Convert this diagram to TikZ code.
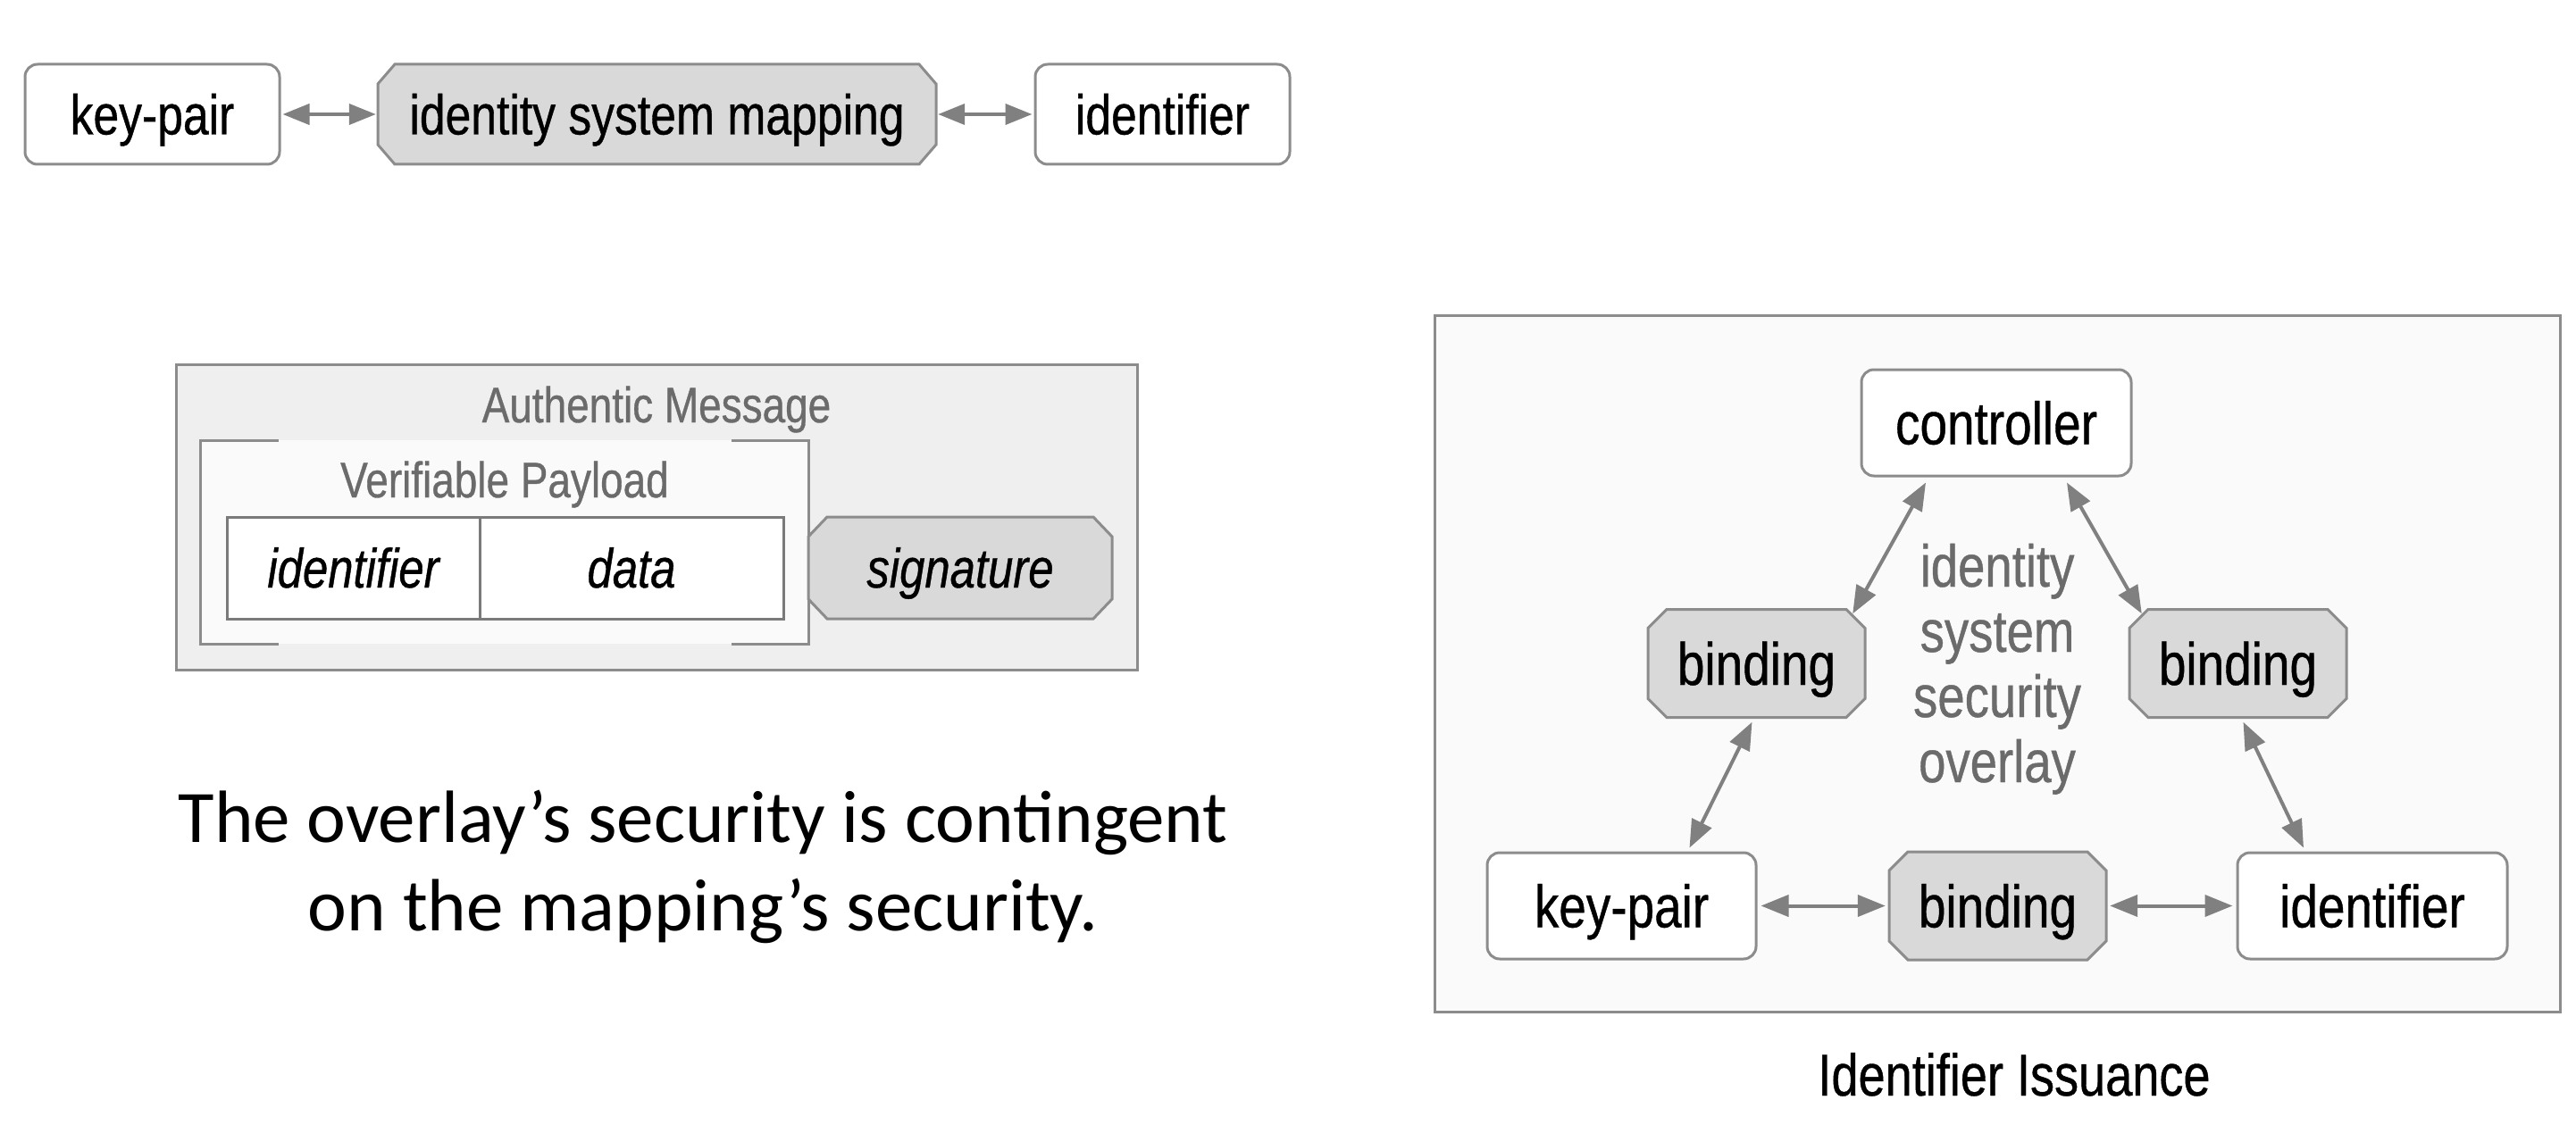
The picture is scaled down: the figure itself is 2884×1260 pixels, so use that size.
\documentclass[tikz,border=0pt]{standalone}
\usepackage{fontspec}
\setmainfont{Liberation Sans}[FakeStretch=0.82,FakeBold=0.6]
\newfontfamily\capfont{Carlito}
\usetikzlibrary{arrows.meta,calc}
\definecolor{edge}{HTML}{8C8C8C}
\definecolor{celledge}{HTML}{7A7A7A}
\definecolor{arr}{HTML}{808080}
\definecolor{octfill}{HTML}{D9D9D9}
\definecolor{panel}{HTML}{EFEFEF}
\definecolor{panelB}{HTML}{FAFAFA}
\definecolor{titlegray}{HTML}{6B6B6B}
% octagon: cx cy w h chamfer-x chamfer-y
\newcommand\octo[6]{%
  \draw[draw=edge,fill=octfill,line width=3pt]
    (#1-#3/2+#5,#2-#4/2) -- (#1+#3/2-#5,#2-#4/2) -- (#1+#3/2,#2-#4/2+#6) --
    (#1+#3/2,#2+#4/2-#6) -- (#1+#3/2-#5,#2+#4/2) -- (#1-#3/2+#5,#2+#4/2) --
    (#1-#3/2,#2+#4/2-#6) -- (#1-#3/2,#2-#4/2+#6) -- cycle;}
\begin{document}
\begin{tikzpicture}[x=1pt,y=-1pt,
  topfont/.style={font=\fontsize{63}{74}\selectfont,text height=45pt,text depth=0pt,inner sep=0pt},
  rfont/.style={font=\fontsize{67}{78}\selectfont,text height=48pt,text depth=0pt,inner sep=0pt},
  rbox/.style={draw=edge,line width=3pt,fill=white,rounded corners=14pt},
  cell/.style={draw=celledge,line width=3pt,fill=white,inner sep=0pt,
    font=\fontsize{62}{74}\selectfont\itshape,text height=44pt,text depth=0pt},
  titletxt/.style={text=titlegray,inner sep=0pt,font=\fontsize{56}{66}\selectfont},
  toparrow/.style={draw=arr,line width=4pt,{Triangle[length=30pt,width=23pt]}-{Triangle[length=30pt,width=23pt]},shorten <=2pt,shorten >=2pt},
  rarrow/.style={draw=arr,line width=4pt,{Triangle[length=31pt,width=24pt]}-{Triangle[length=31pt,width=24pt]}},
]
\useasboundingbox (0,0) rectangle (2884,1260);

% ---------- top row ----------
\node[rbox,topfont,minimum width=285pt,minimum height=112pt] (kp1) at (170.5,128) {key-pair};
\octo{735.5}{128}{625}{112}{19}{22}
\node[topfont,minimum width=625pt,minimum height=112pt] (map) at (735.5,128) {identity system mapping};
\node[rbox,topfont,minimum width=285pt,minimum height=112pt] (id1) at (1301.5,128) {identifier};
\draw[toparrow] (kp1.east) -- (map.west);
\draw[toparrow] (map.east) -- (id1.west);

% ---------- authentic message ----------
\node[draw=edge,line width=3pt,fill=panel,minimum width=1076pt,minimum height=342pt,inner sep=0pt] (am) at (735,579) {};
\node[titletxt,anchor=base] (amt) at (735,473) {Authentic Message};
\fill[panelB] (224,493) rectangle (905,721);
\draw[draw=edge,line width=3pt] (312,493) -- (224,493) -- (224,721) -- (312,721);
\draw[draw=edge,line width=3pt] (819,493) -- (905,493) -- (905,721) -- (819,721);
\node[titletxt,anchor=base] (vpt) at (565,557) {Verifiable Payload};
\node[cell,minimum width=283pt,minimum height=114pt] (idc) at (395.5,636) {identifier};
\node[cell,minimum width=340pt,minimum height=114pt] (datac) at (707,636) {data};
\octo{1075}{636}{340}{114}{21}{22}
\node[inner sep=0pt,font=\fontsize{62}{74}\selectfont\itshape,text height=44pt,text depth=0pt,minimum width=340pt,minimum height=114pt] (sig) at (1075,636) {signature};

% ---------- caption ----------
\node[anchor=base,inner sep=0pt] (cap) at (787,943)
  {\capfont\fontsize{83}{99}\selectfont\begin{tabular}[t]{@{}c@{}}The overlay’s security is contingent\\on the mapping’s security.\end{tabular}};

% ---------- right panel ----------
\node[draw=edge,line width=3pt,fill=panelB,minimum width=1260pt,minimum height=780pt,inner sep=0pt] (rp) at (2236,743) {};
\node[anchor=base,inner sep=0pt,text=titlegray] (ov) at (2236,657)
  {\fontsize{66.5}{73}\selectfont\begin{tabular}[t]{@{}c@{}}identity\\system\\security\\overlay\end{tabular}};

\node[rbox,rfont,minimum width=302pt,minimum height=119pt] (ctrl) at (2235,473.5) {controller};
\octo{1966.5}{743}{243}{121}{21}{21}
\node[rfont,minimum width=243pt,minimum height=121pt] (bL) at (1966.5,743) {binding};
\octo{2505.5}{743}{243}{121}{21}{21}
\node[rfont,minimum width=243pt,minimum height=121pt] (bR) at (2505.5,743) {binding};
\node[rbox,rfont,minimum width=301pt,minimum height=119pt] (kp2) at (1815.5,1014.5) {key-pair};
\octo{2236.5}{1014.5}{243}{121}{21}{21}
\node[rfont,minimum width=243pt,minimum height=121pt] (bB) at (2236.5,1014.5) {binding};
\node[rbox,rfont,minimum width=302pt,minimum height=119pt] (id2) at (2656,1014.5) {identifier};

\draw[rarrow] ($(ctrl.south)+(-79,6)$) -- ($(bL.north east)+(-14,5)$);
\draw[rarrow] ($(ctrl.south)+(79,6)$) -- ($(bR.north west)+(14,5)$);
\draw[rarrow] ($(bL.south)+(-5,5)$) -- ($(kp2.north)+(76,-4)$);
\draw[rarrow] ($(bR.south)+(6,5)$) -- ($(id2.north)+(-77,-4)$);
\draw[rarrow] ($(kp2.east)+(4,0)$) -- ($(bB.west)+(-4,0)$);
\draw[rarrow] ($(bB.east)+(4,0)$) -- ($(id2.west)+(-4,0)$);

\node[anchor=base,inner sep=0pt,font=\fontsize{66}{76}\selectfont] (iss) at (2255,1227) {Identifier Issuance};
\end{tikzpicture}
\end{document}
